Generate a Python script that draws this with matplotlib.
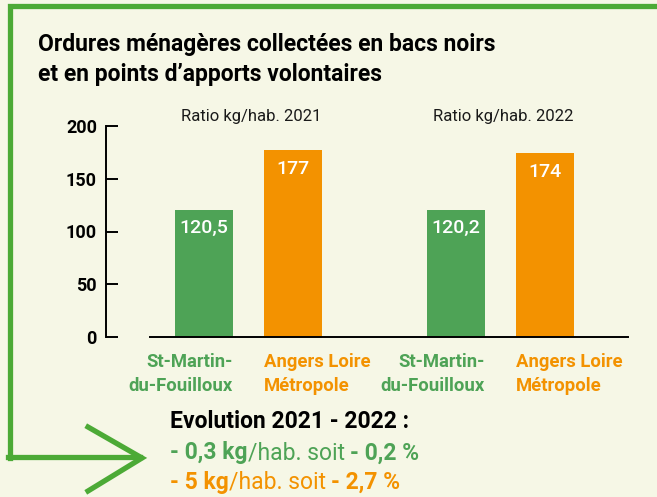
import matplotlib.pyplot as plt
from matplotlib.lines import Line2D
from matplotlib.offsetbox import TextArea, HPacker, AnchoredOffsetbox

plt.rcParams['font.family'] = ['Roboto', 'DejaVu Sans']

years = ['2021', '2022']
places = ['St-Martin-\ndu-Fouilloux', 'Angers Loire\nMétropole']
st_martin = [120.5, 120.2]
angers = [177, 174]
st_martin_lbl = ['120,5', '120,2']
angers_lbl = ['177', '174']
yticks = [0, 50, 100, 150, 200]

bg = '#f6f7e6'
green = '#4ea356'
orange = '#f39200'
frame = '#4caa36'

fig = plt.figure(figsize=(6.57, 4.97), dpi=100, facecolor=bg)
W, H = 657, 497

def fx(px):
    return px / W

def fy(py):
    return 1 - py / H

ax = fig.add_axes([fx(106), fy(337), fx(628) - fx(106), fy(126) - fy(337)])
ax.set_facecolor(bg)

# bar positions in bar-width units
pos_green = [1.69, 6.03]
pos_orange = [3.22, 7.57]
ax.bar(pos_green, st_martin, width=1, color=green, zorder=2)
ax.bar(pos_orange, angers, width=1, color=orange, zorder=2)

for x, v, t in zip(pos_green, st_martin, st_martin_lbl):
    ax.text(x, v - 17, t, color='white', fontsize=14, fontweight='medium',
            ha='center', va='center')
for x, v, t in zip(pos_orange, angers, angers_lbl):
    ax.text(x, v - 18, t, color='white', fontsize=14, fontweight='medium',
            ha='center', va='center')

for g, o, yr in zip(pos_green, pos_orange, years):
    ax.text((g + o) / 2 + 0.05, 209, 'Ratio kg/hab. ' + yr, fontsize=12,
            color='#1a1a1a', ha='center', va='center', clip_on=False)
    ax.text(g + 0.5, -35, places[0], color=green, fontsize=13.3, fontweight='bold',
            ha='right', va='center', linespacing=1.4)
    ax.text(o - 0.5, -35, places[1], color=orange, fontsize=13.3, fontweight='bold',
            ha='left', va='center', linespacing=1.4)

ax.set_xlim(0, 9)
ax.set_ylim(0, 200)
ax.set_xticks([])
ax.set_yticks(yticks)
for s in ['top', 'right']:
    ax.spines[s].set_visible(False)
ax.spines['left'].set_linewidth(1.4)
ax.spines['bottom'].set_bounds(0.76, 9)
ax.spines['bottom'].set_linewidth(1.4)
ax.tick_params(axis='y', direction='in', length=8.5, width=1.4, pad=6.5,
               labelsize=13)
for lab in ax.get_yticklabels():
    lab.set_fontweight('bold')

# title
fig.text(fx(38), fy(45), 'Ordures ménagères collectées en bacs noirs',
         fontsize=16.5, fontweight='bold', va='center')
fig.text(fx(38), fy(75), 'et en points d\u2019apports volontaires',
         fontsize=16.5, fontweight='bold', va='center')

# green frame with arrow
lw = 3.8
fig.add_artist(Line2D([fx(10), fx(10), fx(W + 5)], [fy(458), fy(6), fy(6)],
                      color=frame, lw=lw, solid_joinstyle='miter'))
fig.add_artist(Line2D([fx(8), fx(140)], [fy(457), fy(457)], color=frame, lw=lw))
fig.add_artist(Line2D([fx(88), fx(142), fx(88)], [fy(427), fy(458), fy(491)],
                      color=frame, lw=lw, solid_joinstyle='miter'))

# evolution text
fig.text(fx(170), fy(422), 'Evolution 2021 - 2022 :', fontsize=16.5,
         fontweight='bold', va='center')


def rich_line(parts, color, y):
    boxes = [TextArea(t, textprops=dict(color=color, fontsize=16.5, fontweight=w))
             for t, w in parts]
    pack = HPacker(children=boxes, align='baseline', pad=0, sep=0)
    ab = AnchoredOffsetbox(loc='center left', child=pack, frameon=False,
                           bbox_to_anchor=(fx(170), y),
                           bbox_transform=fig.transFigure, pad=0, borderpad=0)
    fig.add_artist(ab)


rich_line([('- 0,3 kg', 'bold'), ('/hab. soit ', 'normal'), ('- 0,2 %', 'bold')],
          green, fy(453))
rich_line([('- 5 kg', 'bold'), ('/hab. soit ', 'normal'), ('- 2,7 %', 'bold')],
          orange, fy(482))

fig.savefig('out.png', dpi=100, facecolor=bg)
